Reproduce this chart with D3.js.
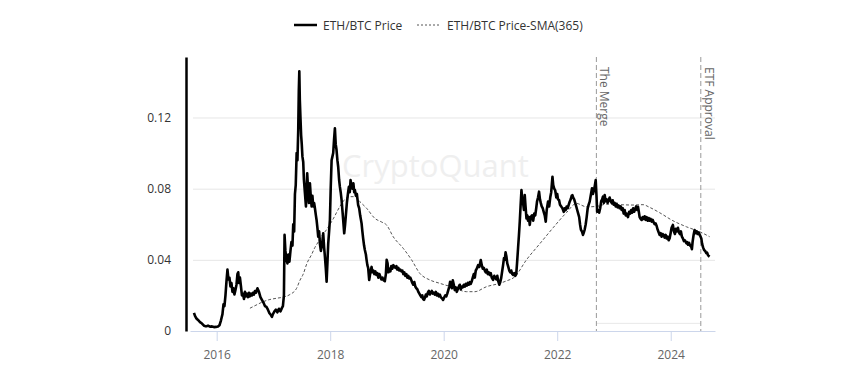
<!DOCTYPE html>
<html><head><meta charset="utf-8">
<script src="https://cdn.jsdelivr.net/npm/d3@7"></script>
<style>body{margin:0;background:#fff;} svg{display:block;font-family:"Open Sans",sans-serif;}</style>
</head><body><svg id="c" width="862" height="373"></svg>
<script>
// Dates are decimal years
const priceDates = [2015.600,2015.618,2015.644,2015.671,2015.706,2015.741,2015.776,2015.812,2015.847,2015.882,2015.917,2015.952,2015.988,2016.023,2016.049,2016.076,2016.102,2016.120,2016.137,2016.155,2016.173,2016.190,2016.208,2016.225,2016.243,2016.260,2016.278,2016.296,2016.313,2016.331,2016.349,2016.366,2016.380,2016.393,2016.410,2016.428,2016.445,2016.463,2016.481,2016.498,2016.516,2016.533,2016.551,2016.569,2016.586,2016.604,2016.621,2016.639,2016.657,2016.674,2016.692,2016.718,2016.745,2016.771,2016.797,2016.824,2016.850,2016.877,2016.903,2016.930,2016.956,2016.974,2016.991,2017.018,2017.044,2017.070,2017.097,2017.123,2017.150,2017.167,2017.185,2017.196,2017.211,2017.229,2017.247,2017.264,2017.282,2017.300,2017.317,2017.335,2017.349,2017.365,2017.379,2017.393,2017.409,2017.423,2017.437,2017.447,2017.456,2017.465,2017.476,2017.488,2017.499,2017.511,2017.525,2017.537,2017.555,2017.573,2017.595,2017.613,2017.625,2017.643,2017.661,2017.673,2017.687,2017.701,2017.717,2017.731,2017.748,2017.760,2017.775,2017.789,2017.805,2017.819,2017.836,2017.854,2017.877,2017.893,2017.907,2017.923,2017.937,2017.951,2017.965,2017.981,2017.995,2018.009,2018.025,2018.039,2018.053,2018.069,2018.083,2018.097,2018.111,2018.127,2018.141,2018.157,2018.171,2018.185,2018.201,2018.215,2018.229,2018.247,2018.263,2018.276,2018.294,2018.312,2018.329,2018.345,2018.359,2018.373,2018.391,2018.409,2018.423,2018.435,2018.453,2018.470,2018.493,2018.511,2018.528,2018.553,2018.567,2018.581,2018.597,2018.611,2018.629,2018.641,2018.655,2018.669,2018.687,2018.699,2018.713,2018.729,2018.743,2018.761,2018.778,2018.796,2018.813,2018.831,2018.849,2018.866,2018.884,2018.901,2018.922,2018.940,2018.963,2018.981,2018.995,2019.011,2019.025,2019.042,2019.060,2019.077,2019.095,2019.113,2019.130,2019.148,2019.166,2019.183,2019.201,2019.218,2019.236,2019.254,2019.271,2019.289,2019.306,2019.324,2019.342,2019.359,2019.377,2019.394,2019.412,2019.430,2019.447,2019.465,2019.482,2019.500,2019.518,2019.535,2019.553,2019.571,2019.588,2019.606,2019.623,2019.637,2019.653,2019.667,2019.685,2019.702,2019.720,2019.738,2019.755,2019.773,2019.790,2019.808,2019.826,2019.843,2019.861,2019.878,2019.896,2019.914,2019.931,2019.949,2019.966,2019.989,2020.011,2020.028,2020.046,2020.063,2020.081,2020.099,2020.113,2020.125,2020.143,2020.160,2020.178,2020.195,2020.213,2020.231,2020.248,2020.266,2020.283,2020.301,2020.319,2020.336,2020.354,2020.372,2020.389,2020.407,2020.424,2020.442,2020.460,2020.477,2020.495,2020.512,2020.530,2020.548,2020.565,2020.583,2020.606,2020.627,2020.653,2020.671,2020.688,2020.706,2020.724,2020.741,2020.759,2020.776,2020.794,2020.812,2020.829,2020.847,2020.870,2020.891,2020.908,2020.926,2020.944,2020.961,2020.979,2020.997,2021.014,2021.032,2021.046,2021.062,2021.076,2021.090,2021.104,2021.120,2021.138,2021.155,2021.173,2021.190,2021.208,2021.226,2021.243,2021.261,2021.278,2021.292,2021.310,2021.326,2021.340,2021.354,2021.370,2021.384,2021.398,2021.414,2021.428,2021.442,2021.458,2021.472,2021.486,2021.502,2021.516,2021.533,2021.556,2021.577,2021.595,2021.613,2021.630,2021.644,2021.662,2021.680,2021.696,2021.710,2021.727,2021.745,2021.762,2021.780,2021.798,2021.815,2021.838,2021.859,2021.877,2021.894,2021.916,2021.930,2021.947,2021.965,2021.984,2022.000,2022.014,2022.032,2022.049,2022.074,2022.092,2022.115,2022.132,2022.150,2022.167,2022.185,2022.203,2022.220,2022.238,2022.255,2022.268,2022.282,2022.299,2022.317,2022.335,2022.352,2022.370,2022.387,2022.402,2022.417,2022.437,2022.454,2022.470,2022.484,2022.502,2022.519,2022.537,2022.554,2022.572,2022.590,2022.613,2022.630,2022.648,2022.664,2022.678,2022.692,2022.704,2022.722,2022.739,2022.757,2022.775,2022.792,2022.806,2022.822,2022.836,2022.854,2022.871,2022.889,2022.906,2022.924,2022.942,2022.959,2022.977,2022.995,2023.012,2023.030,2023.047,2023.065,2023.083,2023.100,2023.118,2023.135,2023.153,2023.171,2023.188,2023.206,2023.224,2023.246,2023.268,2023.285,2023.303,2023.320,2023.338,2023.356,2023.373,2023.391,2023.408,2023.423,2023.438,2023.452,2023.470,2023.488,2023.505,2023.523,2023.540,2023.558,2023.576,2023.593,2023.611,2023.628,2023.646,2023.664,2023.681,2023.699,2023.716,2023.734,2023.752,2023.769,2023.787,2023.804,2023.822,2023.839,2023.857,2023.875,2023.892,2023.910,2023.927,2023.945,2023.963,2023.980,2023.998,2024.015,2024.038,2024.056,2024.074,2024.091,2024.109,2024.127,2024.144,2024.162,2024.179,2024.197,2024.215,2024.232,2024.250,2024.275,2024.289,2024.306,2024.324,2024.341,2024.359,2024.373,2024.385,2024.403,2024.420,2024.438,2024.456,2024.473,2024.491,2024.509,2024.526,2024.539,2024.553,2024.570,2024.588,2024.606,2024.627,2024.641,2024.658,2024.672,2024.685];
const priceValues = [0.0102,0.0085,0.0070,0.0062,0.0050,0.0042,0.0030,0.0026,0.0030,0.0024,0.0026,0.0022,0.0023,0.0025,0.0032,0.0060,0.0095,0.0150,0.0140,0.0200,0.0280,0.0345,0.0290,0.0300,0.0250,0.0270,0.0220,0.0240,0.0205,0.0230,0.0260,0.0320,0.0330,0.0270,0.0300,0.0250,0.0200,0.0210,0.0180,0.0220,0.0195,0.0210,0.0190,0.0215,0.0195,0.0210,0.0200,0.0215,0.0205,0.0225,0.0215,0.0240,0.0220,0.0190,0.0175,0.0160,0.0140,0.0135,0.0120,0.0100,0.0090,0.0080,0.0095,0.0110,0.0120,0.0105,0.0125,0.0110,0.0130,0.0140,0.0200,0.0540,0.0450,0.0400,0.0380,0.0430,0.0390,0.0450,0.0500,0.0480,0.0600,0.0560,0.0770,0.0820,0.1000,0.0960,0.1130,0.1350,0.1460,0.1300,0.1200,0.1100,0.1050,0.0980,0.0950,0.0850,0.0775,0.0700,0.0886,0.0780,0.0720,0.0830,0.0740,0.0700,0.0760,0.0700,0.0720,0.0690,0.0650,0.0624,0.0580,0.0530,0.0560,0.0490,0.0450,0.0480,0.0549,0.0470,0.0418,0.0350,0.0277,0.0380,0.0490,0.0560,0.0624,0.0800,0.0960,0.0980,0.1000,0.1080,0.1139,0.1050,0.1020,0.0960,0.0923,0.0850,0.0810,0.0780,0.0736,0.0680,0.0624,0.0549,0.0600,0.0650,0.0720,0.0770,0.0810,0.0780,0.0848,0.0820,0.0800,0.0830,0.0780,0.0792,0.0760,0.0770,0.0708,0.0690,0.0650,0.0605,0.0560,0.0520,0.0480,0.0455,0.0430,0.0400,0.0370,0.0355,0.0287,0.0310,0.0340,0.0360,0.0330,0.0340,0.0320,0.0335,0.0315,0.0325,0.0300,0.0320,0.0305,0.0290,0.0300,0.0285,0.0280,0.0320,0.0400,0.0380,0.0330,0.0350,0.0335,0.0365,0.0350,0.0370,0.0360,0.0355,0.0365,0.0345,0.0355,0.0340,0.0345,0.0335,0.0340,0.0320,0.0330,0.0310,0.0320,0.0300,0.0310,0.0295,0.0300,0.0285,0.0270,0.0260,0.0275,0.0250,0.0240,0.0235,0.0220,0.0210,0.0200,0.0190,0.0200,0.0180,0.0175,0.0185,0.0205,0.0195,0.0215,0.0225,0.0205,0.0215,0.0225,0.0210,0.0215,0.0205,0.0220,0.0200,0.0210,0.0195,0.0205,0.0190,0.0185,0.0175,0.0190,0.0200,0.0195,0.0210,0.0230,0.0250,0.0277,0.0265,0.0240,0.0285,0.0260,0.0230,0.0245,0.0220,0.0235,0.0250,0.0260,0.0235,0.0250,0.0245,0.0260,0.0250,0.0265,0.0255,0.0270,0.0260,0.0275,0.0265,0.0280,0.0300,0.0320,0.0300,0.0340,0.0350,0.0370,0.0360,0.0399,0.0370,0.0350,0.0355,0.0340,0.0330,0.0345,0.0320,0.0330,0.0315,0.0325,0.0300,0.0287,0.0310,0.0300,0.0290,0.0310,0.0280,0.0260,0.0275,0.0300,0.0340,0.0370,0.0410,0.0400,0.0442,0.0420,0.0380,0.0360,0.0340,0.0330,0.0340,0.0320,0.0315,0.0325,0.0310,0.0320,0.0380,0.0465,0.0540,0.0614,0.0700,0.0792,0.0740,0.0720,0.0680,0.0764,0.0700,0.0633,0.0650,0.0620,0.0640,0.0596,0.0640,0.0650,0.0620,0.0660,0.0650,0.0690,0.0727,0.0750,0.0783,0.0740,0.0720,0.0700,0.0690,0.0670,0.0650,0.0614,0.0680,0.0727,0.0700,0.0750,0.0780,0.0867,0.0820,0.0800,0.0790,0.0750,0.0770,0.0740,0.0736,0.0710,0.0698,0.0690,0.0670,0.0690,0.0680,0.0700,0.0690,0.0710,0.0727,0.0740,0.0760,0.0764,0.0750,0.0740,0.0720,0.0700,0.0680,0.0660,0.0640,0.0600,0.0570,0.0558,0.0540,0.0555,0.0570,0.0600,0.0640,0.0690,0.0710,0.0727,0.0760,0.0802,0.0770,0.0790,0.0820,0.0848,0.0760,0.0670,0.0680,0.0665,0.0690,0.0730,0.0740,0.0755,0.0720,0.0764,0.0730,0.0740,0.0720,0.0735,0.0750,0.0730,0.0720,0.0735,0.0710,0.0720,0.0700,0.0715,0.0695,0.0705,0.0690,0.0700,0.0680,0.0690,0.0660,0.0680,0.0650,0.0660,0.0640,0.0670,0.0660,0.0680,0.0665,0.0690,0.0670,0.0685,0.0700,0.0680,0.0698,0.0670,0.0640,0.0630,0.0624,0.0640,0.0630,0.0645,0.0625,0.0640,0.0620,0.0635,0.0620,0.0630,0.0615,0.0625,0.0610,0.0600,0.0605,0.0590,0.0570,0.0555,0.0540,0.0550,0.0530,0.0545,0.0540,0.0525,0.0540,0.0520,0.0530,0.0510,0.0520,0.0550,0.0580,0.0596,0.0560,0.0545,0.0575,0.0560,0.0580,0.0555,0.0545,0.0560,0.0530,0.0520,0.0505,0.0510,0.0493,0.0500,0.0485,0.0495,0.0480,0.0475,0.0460,0.0500,0.0540,0.0567,0.0550,0.0560,0.0545,0.0555,0.0540,0.0530,0.0520,0.0490,0.0470,0.0455,0.0450,0.0437,0.0440,0.0425,0.0421,0.0418];
const smaDates = [2016.586,2016.692,2016.821,2016.938,2017.055,2017.167,2017.291,2017.408,2017.467,2017.525,2017.590,2017.673,2017.731,2017.789,2017.854,2017.937,2018.053,2018.171,2018.259,2018.347,2018.435,2018.523,2018.641,2018.787,2018.910,2018.993,2019.110,2019.286,2019.434,2019.579,2019.755,2019.931,2020.166,2020.401,2020.548,2020.754,2020.988,2021.093,2021.252,2021.458,2021.692,2021.927,2022.162,2022.338,2022.514,2022.690,2022.866,2023.100,2023.335,2023.511,2023.628,2023.804,2024.038,2024.275,2024.509,2024.685];
const smaValues = [0.0128,0.0145,0.0165,0.0177,0.0184,0.0190,0.0205,0.0240,0.0285,0.0320,0.0380,0.0430,0.0470,0.0500,0.0535,0.0570,0.0630,0.0700,0.0740,0.0755,0.0755,0.0727,0.0690,0.0633,0.0612,0.0596,0.0530,0.0465,0.0400,0.0324,0.0287,0.0268,0.0245,0.0221,0.0221,0.0249,0.0268,0.0280,0.0305,0.0400,0.0490,0.0580,0.0665,0.0717,0.0698,0.0700,0.0713,0.0710,0.0708,0.0710,0.0695,0.0665,0.0620,0.0586,0.0558,0.0530];
const yTickValues = [0, 0.04, 0.08, 0.12];
const xTickValues = [2016, 2018, 2020, 2022, 2024];
const eventNames = ["The Merge", "ETF Approval"];
const eventDates = [2022.69, 2024.53];
const seriesNames = ["ETH/BTC Price", "ETH/BTC Price-SMA(365)"];
const watermark = "CryptoQuant";

const svg = d3.select("#c");
const x = d3.scaleLinear().domain([2015.53, 2024.78]).range([190, 715]);
const y = d3.scaleLinear().domain([0, 0.154]).range([331, 57]);

// watermark
svg.append("text").attr("x", 342).attr("y", 177).attr("font-size", 31)
  .attr("fill", "#efefef").text(watermark);

// gridlines
const grid = svg.append("g").attr("transform", "translate(193,0)")
  .call(d3.axisLeft(y).tickValues(yTickValues.filter(d => d > 0)).tickSize(-(715 - 193)).tickFormat(""));
grid.select(".domain").remove();
grid.selectAll("line").attr("stroke", "#e6e6e6");

// plot band bottom between events
svg.append("line").attr("x1", x(eventDates[0])).attr("x2", x(eventDates[1]))
  .attr("y1", y(0.0043)).attr("y2", y(0.0043)).attr("stroke", "#e8e8e8");

// x axis
const xa = svg.append("g").attr("transform", "translate(0,331)")
  .call(d3.axisBottom(x).tickValues(xTickValues).tickFormat(d3.format("d")).tickSize(10).tickSizeOuter(0).tickPadding(9));
xa.select(".domain").attr("stroke", "#ccd6eb");
xa.selectAll(".tick line").attr("stroke", "#ccd6eb");
xa.selectAll("text").attr("fill", "#666").attr("font-size", 12).attr("font-family", "Open Sans");

// y axis
const ya = svg.append("g").attr("transform", "translate(186,0)")
  .call(d3.axisLeft(y).tickValues(yTickValues).tickFormat(d => d === 0 ? "0" : d3.format(".2f")(d)).tickSize(0).tickSizeOuter(0).tickPadding(15));
ya.select(".domain").attr("stroke", "#000").attr("stroke-width", 2.5);
ya.selectAll("text").attr("fill", "#333").attr("font-size", 12).attr("font-family", "Open Sans");

// event lines
eventDates.forEach((d, i) => {
  svg.append("line").attr("x1", x(d)).attr("x2", x(d)).attr("y1", y(0.154)).attr("y2", y(0))
    .attr("stroke", "#999").attr("stroke-dasharray", "5,3").attr("stroke-width", 1);
  svg.append("text").attr("transform", `translate(${x(d) + 4},67) rotate(90)`)
    .attr("font-size", 12).attr("fill", "#666").text(eventNames[i]);
});

// SMA
const sma = smaDates.map((d, i) => [d, smaValues[i]]);
svg.append("path").datum(sma)
  .attr("d", d3.line().x(d => x(d[0])).y(d => y(d[1])).curve(d3.curveMonotoneX))
  .attr("fill", "none").attr("stroke", "#555").attr("stroke-width", 1).attr("stroke-dasharray", "3,2");

// price
const price = priceDates.map((d, i) => [d, priceValues[i]]);
svg.append("path").datum(price)
  .attr("d", d3.line().x(d => x(d[0])).y(d => y(d[1])))
  .attr("fill", "none").attr("stroke", "#000").attr("stroke-width", 2.6).attr("stroke-linejoin", "round");

// legend
const lg = svg.append("g");
lg.append("line").attr("x1", 294).attr("x2", 317).attr("y1", 25).attr("y2", 25).attr("stroke", "#000").attr("stroke-width", 2.5);
lg.append("text").attr("x", 323).attr("y", 29.5).attr("font-size", 12).attr("fill", "#333").text(seriesNames[0]);
lg.append("line").attr("x1", 417).attr("x2", 440).attr("y1", 25).attr("y2", 25).attr("stroke", "#555").attr("stroke-width", 1).attr("stroke-dasharray", "2,2");
lg.append("text").attr("x", 447).attr("y", 29.5).attr("font-size", 12).attr("fill", "#333").text(seriesNames[1]);
</script></body></html>
